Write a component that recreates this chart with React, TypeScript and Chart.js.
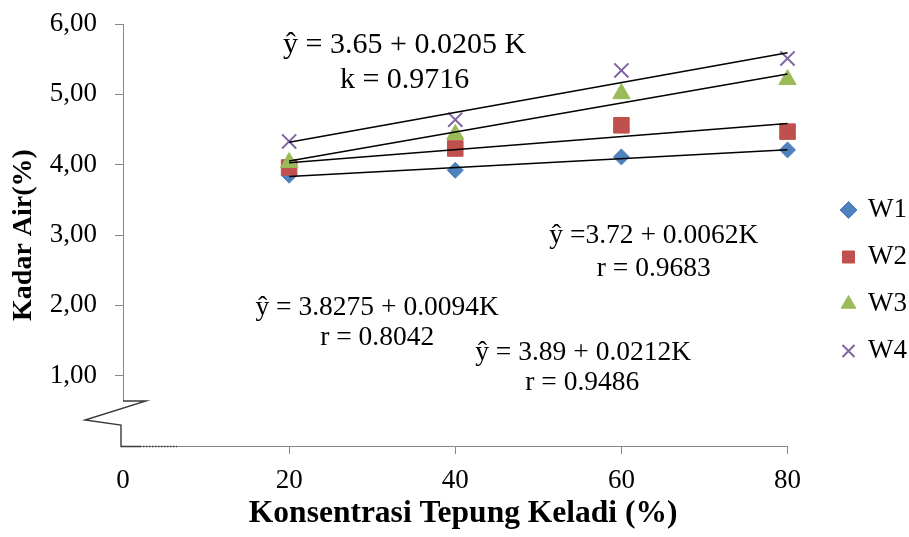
import React, { useEffect, useRef } from 'react';
import { Chart, registerables } from 'chart.js';

Chart.register(...registerables);

// ---- data ----
const concentrations = [20, 40, 60, 80];
const seriesNames = ['W1', 'W2', 'W3', 'W4'];
const w1Values = [3.85, 3.92, 4.11, 4.21];
const w2Values = [3.96, 4.23, 4.56, 4.47];
const w3Values = [4.03, 4.43, 5.01, 5.21];
const w4Values = [4.33, 4.64, 5.34, 5.51];
const xTickValues = [0, 20, 40, 60, 80];
const yTickValues = [0, 1, 2, 3, 4, 5, 6];
const equationTexts = [
  'ŷ = 3.65 + 0.0205 K',
  'k = 0.9716',
  'ŷ =3.72 + 0.0062K',
  'r = 0.9683',
  'ŷ = 3.8275 + 0.0094K',
  'r = 0.8042',
  'ŷ = 3.89 + 0.0212K',
  'r = 0.9486',
];
const xAxisTitle = '  Konsentrasi Tepung Keladi (%)';
const yAxisTitle = 'Kadar Air(%)';

// ---- styles (kept apart from the data) ----
const FONT = 'Liberation Serif';
const seriesStyles = [
  { pointStyle: 'rectRot', color: '#4F81BD', radius: 8, borderWidth: 1, order: 4 },
  { pointStyle: 'rect', color: '#C0504D', radius: 11, borderWidth: 1, order: 3 },
  { pointStyle: 'triangle', color: '#9BBB59', radius: 10, borderWidth: 1, order: 2 },
  { pointStyle: 'crossRot', color: '#8064A2', radius: 10, borderWidth: 2, order: 1 },
];
// label anchor points in data units (x centre, y baseline) and font sizes
const equationAnchors = [
  [33.9, 5.59],
  [33.9, 5.09],
  [63.9, 2.886],
  [63.9, 2.417],
  [30.6, 1.863],
  [30.6, 1.436],
  [55.4, 1.223],
  [55.3, 0.796],
];
const equationFontSizes = [30, 30, 27.5, 27.5, 27.5, 27.5, 27.5, 27.5];
const BREAK_VALUE = 0.64;
const AXIS_GRAY = '#868686';

function linearFit(xs: number[], ys: number[]) {
  const n = xs.length;
  const mx = xs.reduce((s, v) => s + v, 0) / n;
  const my = ys.reduce((s, v) => s + v, 0) / n;
  let sxy = 0;
  let sxx = 0;
  for (let i = 0; i < n; i++) {
    sxy += (xs[i] - mx) * (ys[i] - my);
    sxx += (xs[i] - mx) * (xs[i] - mx);
  }
  const b = sxy / sxx;
  return { a: my - b * mx, b };
}

const breakPlugin = {
  id: 'axisBreakAndLabels',
  afterDraw(chart: any) {
    const { ctx, chartArea } = chart;
    const xs = chart.scales.x;
    const ys = chart.scales.y;
    const L = Math.round(chartArea.left);
    const B = Math.round(ys.getPixelForValue(0));
    const top = Math.round(ys.getPixelForValue(yTickValues[yTickValues.length - 1]));
    const bt = Math.round(ys.getPixelForValue(BREAK_VALUE));
    ctx.save();
    // upper y axis line
    ctx.strokeStyle = AXIS_GRAY;
    ctx.lineWidth = 1;
    ctx.beginPath();
    ctx.moveTo(L + 0.5, top);
    ctx.lineTo(L + 0.5, bt);
    ctx.stroke();
    // zigzag break
    ctx.strokeStyle = '#3a3a3a';
    ctx.lineWidth = 1.4;
    ctx.beginPath();
    ctx.moveTo(L, bt);
    ctx.lineTo(L + 23, bt);
    ctx.lineTo(L - 38, B - 26);
    ctx.lineTo(L - 2, B - 21);
    ctx.lineTo(L - 2, B + 0.5);
    ctx.lineTo(L + 17, B + 0.5);
    ctx.stroke();
    ctx.setLineDash([1.5, 1.5]);
    ctx.beginPath();
    ctx.moveTo(L + 17, B + 0.5);
    ctx.lineTo(L + 54, B + 0.5);
    ctx.stroke();
    ctx.setLineDash([]);
    // equation labels
    ctx.fillStyle = '#000';
    ctx.textAlign = 'center';
    ctx.textBaseline = 'alphabetic';
    equationTexts.forEach((t, i) => {
      const [vx, vy] = equationAnchors[i];
      ctx.font = `${equationFontSizes[i]}px "${FONT}"`;
      ctx.fillText(t, xs.getPixelForValue(vx), ys.getPixelForValue(vy));
    });
    ctx.restore();
  },
};

export default function App() {
  const ref = useRef<HTMLCanvasElement>(null);

  useEffect(() => {
    document.body.style.margin = '0';
    document.body.style.overflow = 'hidden';
    document.documentElement.style.overflow = 'hidden';
    if (!ref.current) return;

    const allSeries = [w1Values, w2Values, w3Values, w4Values];
    const pointSets = allSeries.map((vals, i) => ({
      label: seriesNames[i],
      data: concentrations.map((x, j) => ({ x, y: vals[j] })),
      showLine: false,
      pointStyle: seriesStyles[i].pointStyle,
      pointRadius: seriesStyles[i].radius,
      pointHoverRadius: seriesStyles[i].radius,
      backgroundColor: seriesStyles[i].color,
      borderColor: seriesStyles[i].color,
      pointBorderWidth: seriesStyles[i].borderWidth,
      borderWidth: seriesStyles[i].borderWidth,
      order: seriesStyles[i].order,
      clip: false,
    }));
    const fitSets = allSeries.map((vals, i) => {
      const { a, b } = linearFit(concentrations, vals);
      const x0 = concentrations[0];
      const x1 = concentrations[concentrations.length - 1];
      return {
        label: 'fit ' + seriesNames[i],
        data: [
          { x: x0, y: a + b * x0 },
          { x: x1, y: a + b * x1 },
        ],
        showLine: true,
        borderColor: '#000',
        backgroundColor: '#000',
        borderWidth: 1.5,
        pointRadius: 0,
        pointHoverRadius: 0,
        order: 0,
        clip: false,
      };
    });

    const tickColor = (c: any) => (c.tick && c.tick.value === 0 ? 'rgba(0,0,0,0)' : AXIS_GRAY);

    const chart = new Chart(ref.current, {
      type: 'scatter',
      data: { datasets: [...pointSets, ...fitSets] as any },
      options: {
        responsive: false,
        animation: false,
        devicePixelRatio: 1,
        layout: { padding: { top: 24, left: 0, right: 13, bottom: 0 } },
        plugins: {
          tooltip: { enabled: false },
          legend: {
            position: 'right',
            align: 'center',
            labels: {
              usePointStyle: true,
              boxWidth: 12,
              boxHeight: 12,
              padding: 20,
              color: '#000',
              font: { family: FONT, size: 27 },
              filter: (item: any) => item.datasetIndex < seriesNames.length,
              sort: (a: any, b: any) => a.datasetIndex - b.datasetIndex,
            },
          },
        },
        scales: {
          x: {
            type: 'linear',
            position: 'bottom',
            min: xTickValues[0],
            max: xTickValues[xTickValues.length - 1],
            afterBuildTicks: (s: any) => {
              s.ticks = xTickValues.map((v) => ({ value: v }));
            },
            afterFit: (s: any) => {
              s.height = 91;
            },
            ticks: {
              color: '#000',
              font: { family: FONT, size: 27 },
              padding: 11,
              maxRotation: 0,
              autoSkip: false,
              callback: (v: any) => String(v),
            },
            grid: {
              display: true,
              drawOnChartArea: false,
              drawTicks: true,
              tickLength: 8,
              color: tickColor,
            },
            border: { display: true, color: AXIS_GRAY, width: 1 },
            title: {
              display: true,
              text: xAxisTitle,
              color: '#000',
              font: { family: FONT, size: 31.5, weight: 'bold' },
              padding: { top: 0, bottom: 4 },
            },
          },
          y: {
            type: 'linear',
            position: 'left',
            min: yTickValues[0],
            max: yTickValues[yTickValues.length - 1],
            afterBuildTicks: (s: any) => {
              s.ticks = yTickValues.map((v) => ({ value: v }));
            },
            afterFit: (s: any) => {
              s.width = 123;
              s.paddingTop = 0;
              s.paddingBottom = 0;
            },
            ticks: {
              color: '#000',
              font: { family: FONT, size: 27 },
              padding: 18,
              autoSkip: false,
              callback: (v: any) => (Number(v) === 0 ? '' : Number(v).toFixed(2).replace('.', ',')),
            },
            grid: {
              display: true,
              drawOnChartArea: false,
              drawTicks: true,
              tickLength: 8,
              color: tickColor,
            },
            border: { display: false },
            title: {
              display: true,
              text: yAxisTitle,
              color: '#000',
              font: { family: FONT, size: 28, weight: 'bold' },
              padding: { top: 7, bottom: 0 },
            },
          },
          yGap: {
            type: 'linear',
            position: 'right',
            display: true,
            grid: { display: false },
            border: { display: false },
            ticks: { display: false },
            afterFit: (s: any) => {
              s.width = 35;
              s.paddingTop = 0;
              s.paddingBottom = 0;
            },
          },
        },
      } as any,
      plugins: [breakPlugin],
    });
    return () => chart.destroy();
  }, []);

  return (
    <div style={{ width: 930, height: 537, position: 'relative' }}>
      <canvas ref={ref} width={930} height={537} style={{ display: 'block' }} />
    </div>
  );
}
